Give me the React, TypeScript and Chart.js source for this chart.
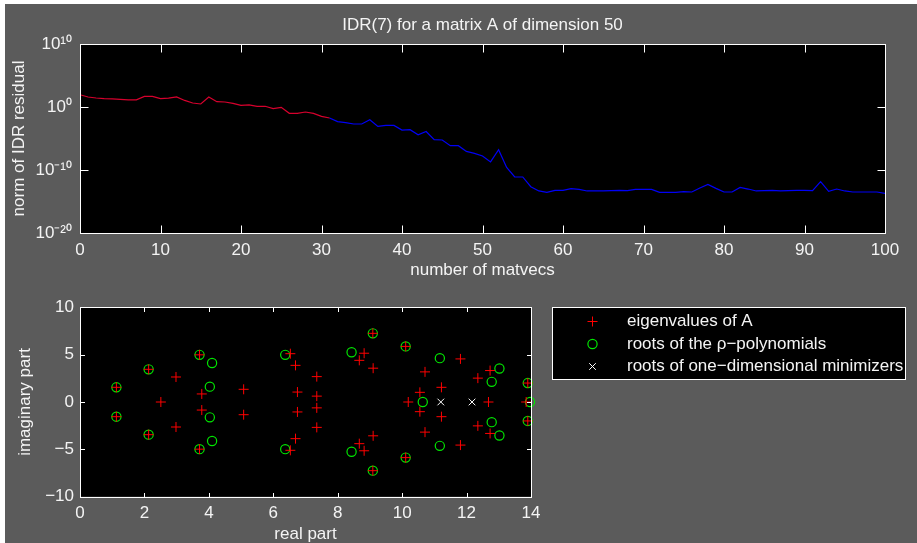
import React, { useEffect, useRef } from "react";
import { Chart, registerables } from "chart.js";

Chart.register(...registerables);

const FONT_FAMILY = '"Liberation Sans", Arial, Helvetica, sans-serif';
const TEXT_COLOR = "#f4f4f4";
const PAGE_GREY = "#5b5b5b";
const FONT_SIZE = 17;

// ---------- texts ----------
const chartTitle = "IDR(7) for a matrix A of dimension 50";
const topXTitle = "number of matvecs";
const topYTitle = "norm of IDR residual";
const bottomXTitle = "real part";
const bottomYTitle = "imaginary part";
const legendLabels = [
  "eigenvalues of A",
  "roots of the \u03c1\u2212polynomials",
  "roots of one\u2212dimensional minimizers",
];

// ---------- top plot: residual history ----------
const residualTicks = [1e-20, 1e-10, 1e0, 1e10];
const residualTickLabels = ["10\u207b\u00b2\u2070", "10\u207b\u00b9\u2070", "10\u2070", "10\u00b9\u2070"];
const matvecTicks = [0, 10, 20, 30, 40, 50, 60, 70, 80, 90, 100];

// residual norm per matvec 0..100
const residuals = [
  8.9e1, 3.9e1, 2.7e1, 2.1e1, 1.9e1, 1.6e1, 1.4e1, 1.4e1, 4.8e1, 4.8e1,
  2.1e1, 2.5e1, 3.9e1, 1.1e1, 4.3, 3.0, 3.9e1, 6.9, 6.2, 3.8,
  1.8, 2.1, 1.3, 1.3, 5.4e-1, 8.7e-1, 9.8e-2, 9.8e-2, 1.6e-1, 9.8e-2,
  3.2e-2, 1.8e-2, 4.7e-3, 3.2e-3, 2.0e-3, 2.0e-3, 9.5e-3, 8.3e-4, 1.2e-3, 1.2e-3,
  2.2e-4, 2.5e-4, 4.0e-5, 1.3e-4, 6.5e-6, 5.8e-6, 7.2e-7, 7.2e-7, 8.9e-8, 4.4e-8,
  1.7e-8, 1.9e-9, 1.7e-7, 2.6e-10, 7.8e-12, 7.8e-12, 2.2e-13, 4.7e-14, 2.8e-14, 5.8e-14,
  5.8e-14, 1.1e-13, 8.5e-14, 4.7e-14, 4.7e-14, 4.7e-14, 5.2e-14, 5.9e-14, 5.2e-14, 8.5e-14,
  8.5e-14, 8.5e-14, 2.8e-14, 2.8e-14, 2.8e-14, 3.6e-14, 3.2e-14, 1.4e-13, 5.2e-13, 1.2e-13,
  3.2e-14, 3.2e-14, 1.7e-13, 9.5e-14, 4.7e-14, 5.2e-14, 5.9e-14, 4.7e-14, 5.2e-14, 5.9e-14,
  5.9e-14, 5.2e-14, 1.4e-12, 4.1e-14, 9.5e-14, 4.7e-14, 3.2e-14, 3.2e-14, 3.2e-14, 3.2e-14,
  2.0e-14,
];
const redUntil = 31; // first part of the curve drawn in red

// ---------- bottom plot: spectrum ----------
const realTicks = [0, 2, 4, 6, 8, 10, 12, 14];
const imagTicks = [-10, -5, 0, 5, 10];

const eigRe = [
  1.13, 1.13, 2.13, 2.13, 3.71, 3.71, 2.51, 2.98, 2.98, 3.78, 3.78, 5.08, 5.08,
  6.53, 6.53, 6.69, 6.69, 6.75, 6.75, 7.35, 7.35, 7.35, 7.35, 8.82, 8.82, 8.67, 8.67,
  9.1, 9.1, 9.09, 9.09, 10.11, 10.11, 10.19, 10.55, 10.55, 10.71, 10.71, 11.22, 11.22,
  11.81, 11.81, 12.35, 12.35, 12.68, 12.73, 12.73, 13.9, 13.9, 13.85,
];
const eigIm = [
  1.55, -1.55, 3.45, -3.45, 4.98, -4.98, 0, 2.64, -2.64, 0.85, -0.85, 1.34, -1.34,
  5.1, -5.1, 3.87, -3.87, 1.05, -1.05, 2.68, -2.68, 0.62, -0.62, 5.15, -5.15, 4.4, -4.4,
  3.57, -3.57, 7.25, -7.25, 5.87, -5.87, 0, 1.02, -1.02, 3.18, -3.18, 1.55, -1.55,
  4.55, -4.55, 2.52, -2.52, 0, 3.32, -3.32, 2.0, -2.0, 0,
];

const rhoRe = [
  1.13, 1.13, 2.13, 2.13, 3.71, 3.71, 4.1, 4.1, 4.03, 4.03, 6.37, 6.37, 8.43, 8.43,
  9.09, 9.09, 10.11, 10.11, 10.64, 11.17, 11.17, 12.78, 12.78, 13.02, 13.02, 13.9, 13.9, 13.97,
];
const rhoIm = [
  1.55, -1.55, 3.45, -3.45, 4.98, -4.98, 4.12, -4.12, 1.62, -1.62, 4.98, -4.98, 5.25, -5.25,
  7.25, -7.25, 5.87, -5.87, 0, 4.63, -4.63, 2.13, -2.13, 3.54, -3.54, 2.0, -2.0, 0,
];

const minRe = [11.2, 12.17];
const minIm = [0, 0];

// ---------- colours ----------
const RED_LINE = "rgb(215,0,45)";
const BLUE_LINE = "#0000f5";
const EIG_COLOR = "#ff0000";
const RHO_COLOR = "rgb(0,230,0)";
const MIN_COLOR = "#ffffff";

const font = () => ({ family: FONT_FAMILY, size: FONT_SIZE, weight: "normal" as const });

const blackArea = {
  id: "blackArea",
  beforeDraw(chart: any) {
    const { ctx, chartArea: a } = chart;
    ctx.save();
    ctx.fillStyle = "#000";
    ctx.fillRect(a.left, a.top, a.right - a.left, a.bottom - a.top);
    ctx.restore();
  },
};

const makeFrame = (tickLen: number) => ({
  id: "frame",
  afterDatasetsDraw(chart: any) {
    const { ctx, chartArea: a, scales } = chart;
    const L = Math.round(a.left) + 0.5;
    const R = Math.round(a.right) + 0.5;
    const T = Math.round(a.top) + 0.5;
    const B = Math.round(a.bottom) + 0.5;
    ctx.save();
    ctx.strokeStyle = "#ffffff";
    ctx.lineWidth = 1;
    ctx.beginPath();
    const xs = scales.x;
    xs.ticks.forEach((t: any) => {
      const p = Math.round(xs.getPixelForValue(t.value)) + 0.5;
      if (p <= L + 1 || p >= R - 1) return;
      ctx.moveTo(p, B);
      ctx.lineTo(p, B - tickLen);
      ctx.moveTo(p, T);
      ctx.lineTo(p, T + tickLen);
    });
    const ys = scales.y;
    ys.ticks.forEach((t: any) => {
      const p = Math.round(ys.getPixelForValue(t.value)) + 0.5;
      if (p <= T + 1 || p >= B - 1) return;
      ctx.moveTo(L, p);
      ctx.lineTo(L + tickLen, p);
      ctx.moveTo(R, p);
      ctx.lineTo(R - tickLen, p);
    });
    ctx.stroke();
    ctx.strokeRect(L, T, R - L, B - T);
    ctx.restore();
  },
});

// legend drawn on the bottom canvas (canvas top is at page y = 285)
const legendBox = {
  id: "legendBox",
  afterDraw(chart: any) {
    const { ctx } = chart;
    const x0 = 552.5, y0 = 22.5, x1 = 905.5, y1 = 94.5;
    ctx.save();
    ctx.fillStyle = "#000";
    ctx.fillRect(x0, y0, x1 - x0, y1 - y0);
    const rows = [36.5, 59, 81.5];
    const mx = 592.5;
    // markers
    ctx.lineWidth = 1;
    ctx.strokeStyle = EIG_COLOR;
    ctx.beginPath();
    ctx.moveTo(mx - 5, rows[0]);
    ctx.lineTo(mx + 5, rows[0]);
    ctx.moveTo(mx, rows[0] - 5);
    ctx.lineTo(mx, rows[0] + 5);
    ctx.stroke();
    ctx.strokeStyle = RHO_COLOR;
    ctx.lineWidth = 1.2;
    ctx.beginPath();
    ctx.arc(mx, rows[1], 4.6, 0, Math.PI * 2);
    ctx.stroke();
    ctx.strokeStyle = MIN_COLOR;
    ctx.lineWidth = 1;
    ctx.beginPath();
    ctx.moveTo(mx - 3.3, rows[2] - 3.3);
    ctx.lineTo(mx + 3.3, rows[2] + 3.3);
    ctx.moveTo(mx - 3.3, rows[2] + 3.3);
    ctx.lineTo(mx + 3.3, rows[2] - 3.3);
    ctx.stroke();
    // texts
    ctx.fillStyle = TEXT_COLOR;
    ctx.font = `${FONT_SIZE}px ${FONT_FAMILY}`;
    ctx.textBaseline = "middle";
    ctx.textAlign = "left";
    legendLabels.forEach((lab, i) => ctx.fillText(lab, 627, rows[i]));
    // border
    ctx.strokeStyle = "#ffffff";
    ctx.lineWidth = 1;
    ctx.strokeRect(x0, y0, x1 - x0, y1 - y0);
    ctx.restore();
  },
};

const minus = (v: number) => String(v).replace("-", "\u2212");

function topConfig(): any {
  const pts = residuals.map((r, i) => ({ x: i, y: r }));
  return {
    type: "line",
    data: {
      datasets: [
        {
          data: pts.slice(0, redUntil + 1),
          borderColor: RED_LINE,
          borderWidth: 1.2,
          pointRadius: 0,
          tension: 0,
          fill: false,
        },
        {
          data: pts.slice(redUntil),
          borderColor: BLUE_LINE,
          borderWidth: 1.2,
          pointRadius: 0,
          tension: 0,
          fill: false,
        },
      ],
    },
    options: {
      responsive: false,
      animation: false,
      events: [],
      layout: { padding: { top: 6, right: 32, left: 0, bottom: 0 } },
      plugins: {
        legend: { display: false },
        tooltip: { enabled: false },
        title: {
          display: true,
          text: chartTitle,
          color: TEXT_COLOR,
          font: font(),
          padding: { top: 9.3, bottom: 8.3 },
          fullSize: false,
        },
      },
      scales: {
        x: {
          type: "linear",
          min: 0,
          max: 100,
          afterBuildTicks: (s: any) => {
            s.ticks = matvecTicks.map((v) => ({ value: v }));
          },
          ticks: { color: TEXT_COLOR, font: font(), padding: 7, maxRotation: 0, autoSkip: false },
          grid: { display: false, drawTicks: false },
          border: { display: false },
          title: {
            display: true,
            text: topXTitle,
            color: TEXT_COLOR,
            font: font(),
            padding: { top: 0, bottom: 4.7 },
          },
          afterFit: (s: any) => {
            s.height = 52;
          },
        },
        y: {
          type: "logarithmic",
          min: 1e-20,
          max: 1e10,
          afterBuildTicks: (s: any) => {
            s.ticks = residualTicks.map((v) => ({ value: v }));
          },
          ticks: {
            color: TEXT_COLOR,
            font: font(),
            padding: 8,
            autoSkip: false,
            callback: (_v: any, i: number) => residualTickLabels[i],
          },
          grid: { display: false, drawTicks: false },
          border: { display: false },
          title: {
            display: true,
            text: topYTitle,
            color: TEXT_COLOR,
            font: font(),
            padding: { top: 8.9, bottom: 0 },
          },
          afterFit: (s: any) => {
            s.width = 80;
          },
        },
      },
    },
    plugins: [blackArea, makeFrame(8)],
  };
}

function bottomConfig(): any {
  return {
    type: "scatter",
    data: {
      datasets: [
        {
          label: legendLabels[0],
          data: eigRe.map((x, i) => ({ x, y: eigIm[i] })),
          pointStyle: "cross",
          pointRadius: 5,
          borderColor: EIG_COLOR,
          backgroundColor: EIG_COLOR,
          borderWidth: 1,
          clip: false,
        },
        {
          label: legendLabels[1],
          data: rhoRe.map((x, i) => ({ x, y: rhoIm[i] })),
          pointStyle: "circle",
          pointRadius: 4.6,
          borderColor: RHO_COLOR,
          backgroundColor: "rgba(0,0,0,0)",
          borderWidth: 1.2,
          clip: false,
        },
        {
          label: legendLabels[2],
          data: minRe.map((x, i) => ({ x, y: minIm[i] })),
          pointStyle: "crossRot",
          pointRadius: 4.7,
          borderColor: MIN_COLOR,
          backgroundColor: MIN_COLOR,
          borderWidth: 1,
          clip: false,
        },
      ],
    },
    options: {
      responsive: false,
      animation: false,
      events: [],
      layout: { padding: { top: 22.3, right: 386, left: 0, bottom: 0 } },
      plugins: {
        legend: { display: false },
        tooltip: { enabled: false },
      },
      scales: {
        x: {
          type: "linear",
          min: 0,
          max: 14,
          afterBuildTicks: (s: any) => {
            s.ticks = realTicks.map((v) => ({ value: v }));
          },
          ticks: { color: TEXT_COLOR, font: font(), padding: 6, maxRotation: 0, autoSkip: false },
          grid: { display: false, drawTicks: false },
          border: { display: false },
          title: {
            display: true,
            text: bottomXTitle,
            color: TEXT_COLOR,
            font: font(),
            padding: { top: 0, bottom: -2 },
          },
          afterFit: (s: any) => {
            s.height = 46.3;
          },
        },
        y: {
          type: "linear",
          min: -10,
          max: 10,
          afterBuildTicks: (s: any) => {
            s.ticks = imagTicks.map((v) => ({ value: v }));
          },
          ticks: {
            color: TEXT_COLOR,
            font: font(),
            padding: 6,
            autoSkip: false,
            callback: (v: any) => minus(Number(v)),
          },
          grid: { display: false, drawTicks: false },
          border: { display: false },
          title: {
            display: true,
            text: bottomYTitle,
            color: TEXT_COLOR,
            font: font(),
            padding: { top: 15.6, bottom: 0 },
          },
          afterFit: (s: any) => {
            s.width = 80;
          },
        },
      },
    },
    plugins: [blackArea, makeFrame(4.5), legendBox],
  };
}

export default function App() {
  const topRef = useRef<HTMLCanvasElement>(null);
  const botRef = useRef<HTMLCanvasElement>(null);

  useEffect(() => {
    const c1 = new Chart(topRef.current as HTMLCanvasElement, topConfig());
    const c2 = new Chart(botRef.current as HTMLCanvasElement, bottomConfig());
    return () => {
      c1.destroy();
      c2.destroy();
    };
  }, []);

  return (
    <div
      style={{
        position: "fixed",
        left: 0,
        top: 0,
        width: 917,
        height: 543,
        background: "#ffffff",
        overflow: "hidden",
      }}
    >
      <div style={{ position: "absolute", left: 5, top: 4, right: 0, bottom: 0, background: PAGE_GREY }} />
      <canvas
        ref={topRef}
        width={917}
        height={285}
        style={{ position: "absolute", left: 0, top: 0, width: 917, height: 285 }}
      />
      <canvas
        ref={botRef}
        width={917}
        height={258}
        style={{ position: "absolute", left: 0, top: 285, width: 917, height: 258 }}
      />
    </div>
  );
}
